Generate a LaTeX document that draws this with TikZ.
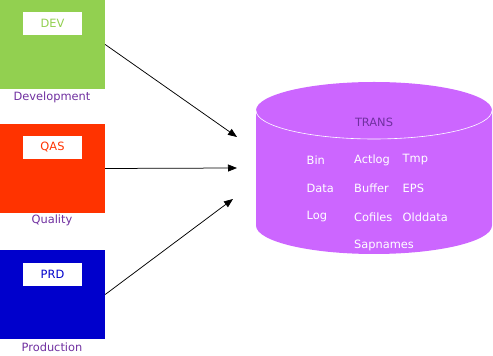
\documentclass[tikz,border=0pt]{standalone}
\usepackage{fontspec}
\setmainfont{DejaVu Sans}
\usetikzlibrary{arrows.meta}
\definecolor{devgreen}{HTML}{92D050}
\definecolor{qasred}{HTML}{FF3300}
\definecolor{prdblue}{HTML}{0000CC}
\definecolor{cylpurple}{HTML}{CC66FF}
\definecolor{captpurple}{HTML}{7030A0}
\begin{document}
\begin{tikzpicture}[x=1pt,y=1pt,
  txt/.style={font=\fontsize{11.4}{13}\selectfont, inner sep=0pt},
  sysbox/.style={rectangle, minimum width=105pt, minimum height=89pt, inner sep=0pt},
  tag/.style={txt, rectangle, fill=white, minimum width=59pt, minimum height=23pt},
  caption/.style={txt, text=captpurple},
  dirname/.style={txt, text=white, anchor=west},
  flow/.style={-{Triangle[length=9pt,width=7pt]}, line width=0.75pt, black}]
\useasboundingbox (0,0) rectangle (493,356);

% landscape boxes
\node[sysbox, fill=devgreen] (dev) at (52.5,311.5) {};
\node[sysbox, fill=qasred]   (qas) at (52.5,187.5) {};
\node[sysbox, fill=prdblue]  (prd) at (52.5,61.5) {};

\node[tag, text=devgreen] (devtag) at (52.5,332.5) {DEV};
\node[tag, text=qasred]   (qastag) at (52.5,208.5) {QAS};
\node[tag, text=prdblue]  (prdtag) at (52.5,81.5) {PRD};

\node[caption] (devcap) at (52,259) {Development};
\node[caption] (qascap) at (52,136) {Quality};
\node[caption] (prdcap) at (52,9) {Production};

% transport directory cylinder
\fill[cylpurple] (256,245.5) -- (256,130.5)
  arc[start angle=180, end angle=360, x radius=118, y radius=28.5]
  -- (492,245.5)
  arc[start angle=0, end angle=180, x radius=118, y radius=28.5] -- cycle;
\draw[white, line width=0.6pt] (256,245.5)
  arc[start angle=180, end angle=360, x radius=118, y radius=28.5];

\node[txt, text=captpurple] (trans) at (374,234) {TRANS};

\node[dirname] (bin)    at (306.5,196) {Bin};
\node[dirname] (data)   at (306.5,167.5) {Data};
\node[dirname] (log)    at (306.5,139) {Log};
\node[dirname] (actlog) at (354,196) {Actlog};
\node[dirname] (buffer) at (354,167.5) {Buffer};
\node[dirname] (cofiles) at (354,139) {Cofiles};
\node[dirname] (sapnames) at (354,110.5) {Sapnames};
\node[dirname] (tmp)    at (402.5,196) {Tmp};
\node[dirname] (eps)    at (402.5,167.5) {EPS};
\node[dirname] (olddata) at (402.5,139) {Olddata};

% arrow targets in front of the cylinder
\coordinate (inA) at (237,219);
\coordinate (inB) at (237,188);
\coordinate (inC) at (233,157);

\draw[flow] (dev.east) -- (inA);
\draw[flow] (qas.east) -- (inB);
\draw[flow] (prd.east) -- (inC);
\end{tikzpicture}
\end{document}
